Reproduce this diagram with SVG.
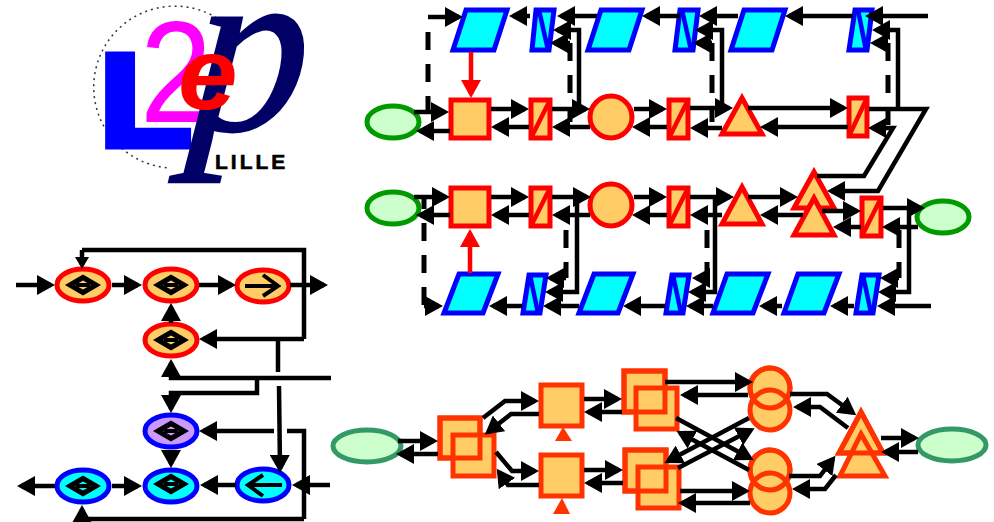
<svg xmlns="http://www.w3.org/2000/svg" width="994" height="522" viewBox="0 0 994 522">
<style>
.c{fill:none;stroke:#000;stroke-width:4.5;marker-end:url(#a)}
.n{fill:none;stroke:#000;stroke-width:4.5}
.s{fill:none;stroke:#000;stroke-width:4.5;marker-end:url(#as)}
.d{fill:none;stroke:#000;stroke-width:5;stroke-dasharray:18 14}
.r{fill:none;stroke:#f00;stroke-width:4.5;marker-end:url(#ar)}
.b{fill:#0ff;stroke:#00f;stroke-width:5}
.bl{fill:none;stroke:#00f;stroke-width:4.5}
.o{fill:#fc6;stroke:#f00;stroke-width:5}
.ol{fill:none;stroke:#f00;stroke-width:4.5}
.g{fill:#cfc;stroke:#090;stroke-width:5}
.p{fill:#fc6;stroke:#f30;stroke-width:5}
.pl{fill:none;stroke:#f30;stroke-width:5}
.h{fill:#cfc;stroke:#396;stroke-width:5}
.e1{fill:#fc6;stroke:#f00;stroke-width:5}
.e2{fill:#c9f;stroke:#00f;stroke-width:5}
.e3{fill:#0ff;stroke:#00f;stroke-width:5}
.i{fill:none;stroke:#000;stroke-width:4}
.k{fill:none;stroke:#000;stroke-width:5}
</style>
<defs>
<marker id="a" markerUnits="userSpaceOnUse" markerWidth="20" markerHeight="20" refX="14" refY="10" orient="auto"><path d="M0,0L18,10L0,20z" fill="#000"/></marker>
<marker id="as" markerUnits="userSpaceOnUse" markerWidth="13" markerHeight="14" refX="8" refY="7" orient="auto"><path d="M0,0L12,7L0,14z" fill="#000"/></marker>
<marker id="ar" markerUnits="userSpaceOnUse" markerWidth="20" markerHeight="20" refX="14" refY="10" orient="auto"><path d="M0,0L18,10L0,20z" fill="#f00"/></marker>
<g id="dm"><path class="k" d="M-13,0L0,-7.5L13,0L0,7.5z"/><path class="i" d="M-7,0H7" stroke-width="3"/></g>
<path id="para" class="b" d="M13,0H54L41,40H0z"/>
</defs>

<g id="logo">
<path d="M235,33A81,81 0 1 0 170,168" fill="none" stroke="#333" stroke-width="1.5" stroke-dasharray="2 4"/>
<text transform="translate(99,146) scale(1.15,1)" font-family="'Liberation Sans',sans-serif" font-weight="700" font-size="132" fill="#00f" stroke="#00f" stroke-width="7">L</text>
<text transform="translate(140,122) scale(.9,1)" font-family="'Liberation Sans',sans-serif" font-size="144" fill="#f0f">2</text>
<text transform="translate(187,130) skewX(-5) scale(.95,1)" font-family="'Liberation Serif',serif" font-style="italic" font-size="245" fill="#006" stroke="#006" stroke-width="2">p</text>
<text transform="translate(178,109) scale(1.05,1)" font-family="'Liberation Sans',sans-serif" font-style="italic" font-weight="700" font-size="102" fill="#f00">e</text>
<text x="215" y="169" font-family="'Liberation Sans',sans-serif" font-weight="700" font-size="21" letter-spacing="3" stroke="#000" stroke-width=".6" fill="#000">LILLE</text>
</g>

<g id="row1">
<use id="p1" href="#para" x="453" y="10"/>
<g id="v1"><path class="b" d="M536,10H554L549,50H532z"/><path class="bl" d="M539,10L548,50"/></g>
<use id="p2" href="#para" x="588" y="10"/>
<g id="v2"><path class="b" d="M680,10H698L693,50H675z"/><path class="bl" d="M682,10L691,50"/></g>
<use id="p3" href="#para" x="731" y="10"/>
<g id="v3"><path class="b" d="M855,10H872L867,50H849z"/><path class="bl" d="M858,10L866,50"/></g>
</g>

<g id="row2">
<ellipse id="g1" class="g" cx="393" cy="122" rx="26" ry="16"/>
<rect id="s1" class="o" x="451" y="100" width="38" height="38"/>
<g id="u1"><rect class="o" x="531" y="100" width="19" height="38"/><path class="ol" d="M550,100L531,138"/></g>
<circle id="c1" class="o" cx="611" cy="117" r="21"/>
<g id="u2"><rect class="o" x="669" y="100" width="19" height="38"/><path class="ol" d="M688,100L669,138"/></g>
<path id="t1" class="o" d="M742,98L762,134H722z"/>
<g id="u3"><rect class="o" x="849" y="98" width="18" height="38"/><path class="ol" d="M867,98L849,136"/></g>
</g>

<g id="row3">
<ellipse id="g2" class="g" cx="393" cy="208" rx="26" ry="16"/>
<rect id="s2" class="o" x="451" y="188" width="38" height="38"/>
<g id="u4"><rect class="o" x="531" y="188" width="19" height="38"/><path class="ol" d="M550,188L531,226"/></g>
<circle id="c2" class="o" cx="611" cy="205" r="21"/>
<g id="u5"><rect class="o" x="669" y="188" width="19" height="38"/><path class="ol" d="M688,188L669,226"/></g>
<path id="t2" class="o" d="M742,187L762,224H722z"/>
<path id="t3" class="o" d="M814,172L834,208H794z"/>
<path id="t4" class="o" d="M814,198L834,235H794z"/>
<g id="u6"><rect class="o" x="862" y="198" width="19" height="38"/><path class="ol" d="M881,198L862,236"/></g>
<ellipse id="g3" class="g" cx="943" cy="217" rx="26" ry="16"/>
</g>

<g id="row4">
<path id="p4" class="b" d="M459,274H498L483,313H444z"/>
<g id="v4"><path class="b" d="M529,275H546L540,313H523z"/><path class="bl" d="M530,275L538,313"/></g>
<path id="p5" class="b" d="M594,274H633L618,313H579z"/>
<g id="v5"><path class="b" d="M672,275H689L683,313H666z"/><path class="bl" d="M673,275L681,313"/></g>
<path id="p6" class="b" d="M727,274H768L753,313H713z"/>
<path id="p7" class="b" d="M798,274H839L824,313H784z"/>
<g id="v6"><path class="b" d="M862,275H879L873,313H856z"/><path class="bl" d="M863,275L871,313"/></g>
</g>

<g id="left">
<g id="l1"><ellipse class="e1" cx="83" cy="285" rx="26" ry="16"/><use href="#dm" x="83" y="285"/></g>
<g id="l2"><ellipse class="e1" cx="171" cy="285" rx="26" ry="16"/><use href="#dm" x="171" y="285"/></g>
<g id="l3"><ellipse class="e1" cx="263" cy="286" rx="26" ry="16"/><path class="i" d="M245,286H277M263,275L278,286L263,296"/></g>
<g id="l4"><ellipse class="e1" cx="171" cy="340" rx="26" ry="16"/><use href="#dm" x="171" y="340"/></g>
<g id="l5"><ellipse class="e2" cx="171" cy="431" rx="26" ry="16"/><use href="#dm" x="171" y="431"/></g>
<g id="l6"><ellipse class="e3" cx="171" cy="486" rx="26" ry="16"/><use href="#dm" x="171" y="484"/></g>
<g id="l7"><ellipse class="e3" cx="83" cy="486" rx="26" ry="16"/><use href="#dm" x="83" y="486"/></g>
<g id="l8"><ellipse class="e3" cx="263" cy="485" rx="26" ry="16"/><path class="i" d="M282,485H249M263,475L248,485L263,496"/></g>
</g>

<g id="bottom">
<ellipse id="h1" class="h" cx="367" cy="446" rx="34" ry="16"/>
<g id="q1"><rect class="p" x="440" y="418" width="40" height="40"/><rect class="p" x="453" y="435" width="41" height="41"/><rect class="pl" x="440" y="418" width="40" height="40"/></g>
<rect id="q2" class="p" x="541" y="385" width="41" height="41"/>
<rect id="q3" class="p" x="541" y="455" width="41" height="41"/>
<g id="q4"><rect class="p" x="624" y="371" width="41" height="41"/><rect class="p" x="636" y="388" width="41" height="41"/><rect class="pl" x="624" y="371" width="41" height="41"/></g>
<g id="q5"><rect class="p" x="625" y="450" width="41" height="41"/><rect class="p" x="638" y="467" width="41" height="41"/><rect class="pl" x="625" y="450" width="41" height="41"/></g>
<g id="o1"><circle class="p" cx="770" cy="388" r="20"/><circle class="p" cx="770" cy="410" r="20"/><circle class="pl" cx="770" cy="388" r="20"/></g>
<g id="o2"><circle class="p" cx="770" cy="470" r="20"/><circle class="p" cx="770" cy="493" r="20"/><circle class="pl" cx="770" cy="470" r="20"/></g>
<g id="y1"><path class="p" d="M861,412L883,453H839z"/><path class="p" d="M861,434L885,476H840z"/><path class="pl" d="M861,412L883,453H839z"/></g>
<ellipse id="h2" class="h" cx="952" cy="445" rx="34" ry="16"/>
</g>

<g id="connectors">
<path class="c" d="M928,16H869"/><path class="c" d="M853,16H789"/><path class="c" d="M738,16H703"/><path class="c" d="M680,16H646"/><path class="c" d="M597,16H561"/><path class="c" d="M530,16H513"/>
<path class="c" d="M428,17H459"/><path class="d" d="M428,32V112"/>
<path class="c" d="M579,109V30H557"/><path class="d" d="M570,43V122"/><path class="c" d="M570,43H554"/>
<path class="c" d="M722,109V30H699"/><path class="d" d="M712,43V122"/><path class="c" d="M712,43H697"/>
<path class="c" d="M898,109V30H876"/><path class="d" d="M888,43V128"/><path class="c" d="M888,43H874"/>
<path class="r" d="M471,52V94"/>
<path class="c" d="M414,112H445"/><path class="c" d="M450,131H420"/>
<path class="c" d="M491,109H525"/><path class="c" d="M529,127H495"/>
<path class="c" d="M552,109H586"/><path class="c" d="M590,127H556"/>
<path class="c" d="M634,109H663"/><path class="c" d="M667,127H636"/>
<path class="c" d="M690,108H729"/><path class="c" d="M722,128H694"/>
<path class="c" d="M748,108H844"/><path class="c" d="M848,127H764"/>
<path class="c" d="M869,109H926L878,191H831"/>
<path class="c" d="M817,176H864L893,128H872"/>
<path class="c" d="M414,197H446"/><path class="c" d="M450,215H420"/>
<path class="c" d="M491,197H525"/><path class="c" d="M529,215H495"/>
<path class="c" d="M552,197H587"/><path class="c" d="M590,215H556"/>
<path class="c" d="M634,197H663"/><path class="c" d="M667,215H636"/>
<path class="c" d="M690,197H730"/><path class="c" d="M722,215H694"/>
<path class="c" d="M748,197H794"/><path class="c" d="M803,215H764"/>
<path class="c" d="M822,211H857"/><path class="c" d="M861,227H837"/>
<path class="c" d="M883,208H921"/><path class="c" d="M918,227H886"/>
<path class="r" d="M470,273V233"/>
<path class="c" d="M931,306H881"/><path class="c" d="M854,306H834"/><path class="c" d="M782,306H763"/><path class="c" d="M713,306H690"/><path class="c" d="M665,306H627"/><path class="c" d="M579,306H547"/><path class="c" d="M522,306H493"/>
<path class="d" d="M424,305V195"/><path class="c" d="M424,306H439"/>
<path class="c" d="M577,197V292H549"/><path class="d" d="M566,230V278"/><path class="c" d="M566,278H550"/>
<path class="c" d="M715,197V292H692"/><path class="d" d="M707,230V278"/><path class="c" d="M707,278H696"/>
<path class="c" d="M909,208V292H882"/><path class="d" d="M899,230V278"/><path class="c" d="M899,278H884"/>
<path class="c" d="M16,285H51"/><path class="c" d="M112,285H138"/><path class="c" d="M199,285H232"/><path class="c" d="M290,285H324"/>
<path class="n" d="M304,339V250H82"/><path class="s" d="M82,250V265"/>
<path class="c" d="M304,339H203"/>
<path class="c" d="M171,323V307"/>
<path class="c" d="M331,378H171V363"/>
<path class="c" d="M257,378V393H171V409"/>
<path class="n" d="M278,340V372"/><path class="c" d="M279,386L280,469"/>
<path class="n" d="M304,519V431H287"/><path class="c" d="M274,431H203"/>
<path class="c" d="M304,519H82V509"/>
<path class="c" d="M330,485H296"/><path class="c" d="M236,485H204"/><path class="c" d="M112,486H138"/><path class="c" d="M55,486H21"/><path class="c" d="M171,451V464"/>
<path class="c" d="M398,441H434"/><path class="c" d="M438,454H400"/>
<path class="c" d="M483,418L505,401H535"/><path class="c" d="M539,414H511L488,432"/>
<path class="c" d="M496,452L512,471H535"/><path class="c" d="M539,485H508L499,472"/>
<path class="c" d="M584,399H618"/><path class="c" d="M622,412H588"/>
<path class="c" d="M584,470H619"/><path class="c" d="M623,483H588"/>
<path class="c" d="M665,382H749"/><path class="c" d="M748,395H684"/>
<path class="c" d="M680,491H746"/><path class="c" d="M750,503H682"/>
<path class="c" d="M676,418L750,458"/><path class="c" d="M749,470L680,433"/>
<path class="c" d="M749,418L668,461"/><path class="c" d="M678,468L751,430"/>
<path class="c" d="M790,394H827L853,413"/><path class="c" d="M848,428L820,407H797"/>
<path class="c" d="M789,476H820L833,459"/><path class="c" d="M836,475L825,489H796"/>
<path class="c" d="M881,438H915"/><path class="c" d="M918,452H885"/>
<path fill="#f30" d="M555,441H572L563,427z"/><path fill="#f30" d="M553,514H570L562,498z"/>
</g>
</svg>
